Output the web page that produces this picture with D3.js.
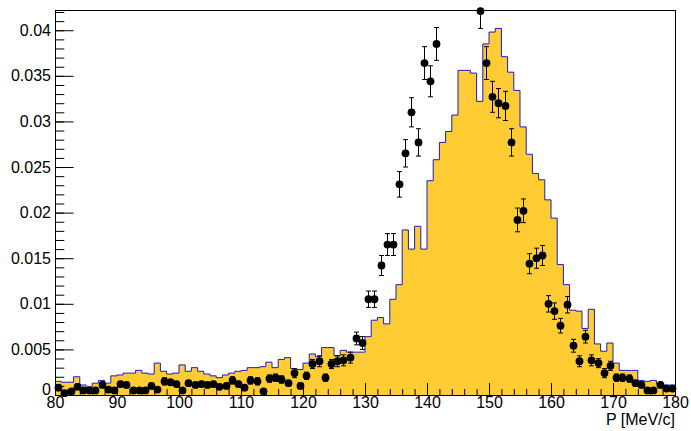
<!DOCTYPE html>
<html>
<head>
<meta charset="utf-8">
<script src="https://cdn.jsdelivr.net/npm/d3@7"></script>
<style>
  html, body { margin: 0; padding: 0; background: #fff; }
  svg { display: block; font-family: "Liberation Sans", Arial, Helvetica, sans-serif; }
</style>
</head>
<body>
<svg id="chart" width="691" height="431"></svg>
<script>
// Momentum spectrum: 1 MeV/c bins from 80 to 180 MeV/c
const binLow = d3.range(80, 180);

// Simulated spectrum (filled histogram), one value per bin
const simValues = [
  0.0015, 0.0014, 0.0014, 0.0020, 0.0011, 0.0009, 0.0013, 0.0016, 0.0013, 0.0021,
  0.0022, 0.0024, 0.0024, 0.0027, 0.0024, 0.0023, 0.0035, 0.0026, 0.0023, 0.0024,
  0.0033, 0.0026, 0.0030, 0.0026, 0.0023, 0.0021, 0.0019, 0.0022, 0.0024, 0.0026,
  0.0027, 0.0030, 0.0030, 0.0031, 0.0036, 0.0030, 0.0039, 0.0041, 0.0029, 0.0028,
  0.0035, 0.0045, 0.0042, 0.0052, 0.0052, 0.0043, 0.0049, 0.0047, 0.0047, 0.0047,
  0.0064, 0.0082, 0.0085, 0.0078, 0.0105, 0.0121, 0.0181, 0.0160, 0.0185, 0.0160,
  0.0235, 0.0258, 0.0277, 0.0289, 0.0307, 0.0356, 0.0356, 0.0353, 0.0322, 0.0385,
  0.0398, 0.0402, 0.0371, 0.0354, 0.0334, 0.0294, 0.0264, 0.0243, 0.0236, 0.0214,
  0.0194, 0.0143, 0.0121, 0.0093, 0.0092, 0.0073, 0.0094, 0.0056, 0.0048, 0.0057,
  0.0035, 0.0027, 0.0027, 0.0027, 0.0016, 0.0015, 0.0016, 0.0012, 0.0011, 0.0011
];

// Measured points (null where the point lies above the plotted range)
const dataValues = [
  0.0008, 0.0002, 0.0004, 0.0009, 0.0005, 0.0005, 0.0005, 0.0011, 0.0006, 0.0005,
  0.0012, 0.0011, 0.0005, 0.0005, 0.0005, 0.0010, 0.0006, 0.0015, 0.0014, 0.0012,
  0.0005, 0.0013, 0.0011, 0.0012, 0.0011, 0.0012, 0.0009, 0.0010, 0.0016, 0.0012,
  0.0008, 0.0016, 0.0015, 0.0004, 0.0018, 0.0019, 0.0017, 0.0013, 0.0024, 0.0010,
  0.0021, 0.0034, 0.0037, 0.0019, 0.0034, 0.0037, 0.0038, 0.0041, 0.0062, 0.0057,
  0.0105, 0.0105, 0.0142, 0.0165, 0.0165, 0.0231, 0.0265, 0.0310, 0.0277, 0.0364,
  0.0344, 0.0385, null, null, null, null, null, null, 0.0421, 0.0364,
  0.0327, 0.0320, 0.0317, 0.0277, 0.0192, 0.0202, 0.0144, 0.0150, 0.0153, 0.0100,
  0.0092, 0.0076, 0.0099, 0.0054, 0.0037, 0.0064, 0.0038, 0.0035, 0.0024, 0.0032,
  0.0019, 0.0019, 0.0018, 0.0013, 0.0011, 0.0005, 0.0005, 0.0011, 0.0007, 0.0007
];

// Statistical uncertainty of each measured point
const dataErrors = [
  0.0003, 0.0001, 0.0002, 0.0003, 0.0002, 0.0002, 0.0002, 0.0003, 0.0002, 0.0002,
  0.0003, 0.0003, 0.0002, 0.0002, 0.0002, 0.0003, 0.0002, 0.0004, 0.0003, 0.0003,
  0.0002, 0.0003, 0.0003, 0.0003, 0.0003, 0.0003, 0.0003, 0.0003, 0.0004, 0.0003,
  0.0003, 0.0004, 0.0004, 0.0002, 0.0004, 0.0004, 0.0004, 0.0003, 0.0005, 0.0003,
  0.0004, 0.0005, 0.0006, 0.0004, 0.0005, 0.0006, 0.0006, 0.0006, 0.0007, 0.0007,
  0.0009, 0.0009, 0.0011, 0.0012, 0.0012, 0.0014, 0.0015, 0.0016, 0.0015, 0.0018,
  0.0017, 0.0018, null, null, null, null, null, null, 0.0019, 0.0018,
  0.0017, 0.0016, 0.0016, 0.0015, 0.0013, 0.0013, 0.0011, 0.0011, 0.0011, 0.0009,
  0.0009, 0.0008, 0.0009, 0.0007, 0.0006, 0.0007, 0.0006, 0.0005, 0.0005, 0.0005,
  0.0004, 0.0004, 0.0004, 0.0003, 0.0003, 0.0002, 0.0002, 0.0003, 0.0002, 0.0002
];

// Axis tick values
const xTicks = d3.range(80, 181, 10);
const xMinorTicks = d3.range(80, 181, 2);
const yTicks = [0, 0.005, 0.01, 0.015, 0.02, 0.025, 0.03, 0.035, 0.04];
const yMinorTicks = d3.range(0, 43).map(i => i / 1000);
const xTitle = "P [MeV/c]";

const frame = { left: 55, right: 675, top: 10, bottom: 395 };
const svg = d3.select("#chart");

const x = d3.scaleLinear().domain([80, 180]).range([frame.left, frame.right]);
const y = d3.scaleLinear().domain([0, 0.04222]).range([frame.bottom, frame.top]);

svg.append("defs").append("clipPath").attr("id", "plotClip")
  .append("rect")
  .attr("x", frame.left).attr("y", frame.top)
  .attr("width", frame.right - frame.left)
  .attr("height", frame.bottom - frame.top);

// Step histogram: each bin's value held from its low edge to the next
const steps = binLow.map((b, i) => [b, simValues[i]]);
steps.push([180, simValues[simValues.length - 1]]);

const plot = svg.append("g").attr("clip-path", "url(#plotClip)");

plot.append("path")
  .datum(steps)
  .attr("fill", "#ffcc33")
  .attr("d", d3.area()
    .curve(d3.curveStepAfter)
    .x(d => x(d[0]))
    .y0(y(0))
    .y1(d => y(d[1])));

plot.append("path")
  .datum(steps)
  .attr("fill", "none")
  .attr("stroke", "#1c1cc0")
  .attr("stroke-width", 1)
  .attr("d", d3.line()
    .curve(d3.curveStepAfter)
    .x(d => x(d[0]))
    .y(d => y(d[1])));

// Frame
svg.append("rect")
  .attr("x", frame.left + 0.5).attr("y", frame.top + 0.5)
  .attr("width", frame.right - frame.left)
  .attr("height", frame.bottom - frame.top)
  .attr("fill", "none")
  .attr("stroke", "#000")
  .attr("stroke-width", 1);

// Axes: ticks point into the frame
const fmtY = d => d === 0 ? "0" : String(+d.toFixed(3));

const yMinor = svg.append("g")
  .attr("transform", `translate(${frame.left},0)`)
  .call(d3.axisLeft(y).tickValues(yMinorTicks).tickSize(-9.3).tickFormat(""));
yMinor.select(".domain").remove();

const yAxis = svg.append("g")
  .attr("transform", `translate(${frame.left},0)`)
  .call(d3.axisLeft(y).tickValues(yTicks).tickSize(-18.6).tickPadding(4).tickFormat(fmtY));

const xMinor = svg.append("g")
  .attr("transform", `translate(0,${frame.bottom})`)
  .call(d3.axisBottom(x).tickValues(xMinorTicks).tickSize(-6).tickFormat(""));
xMinor.select(".domain").remove();

const xAxis = svg.append("g")
  .attr("transform", `translate(0,${frame.bottom})`)
  .call(d3.axisBottom(x).tickValues(xTicks).tickSize(-12).tickPadding(2).tickFormat(d => String(d)));

svg.selectAll(".tick line").attr("stroke", "#000");
svg.selectAll(".domain").attr("stroke", "#000");
[xAxis, yAxis].forEach(g => g.selectAll("text")
  .attr("font-family", "'Liberation Sans', Arial, Helvetica, sans-serif")
  .attr("font-size", 16)
  .attr("fill", "#000"));

// the zero label sits a little above its tick, clear of the "80" below it
yAxis.selectAll(".tick").filter(d => d === 0).select("text").attr("y", -6);

svg.append("text")
  .attr("x", frame.right)
  .attr("y", 425)
  .attr("text-anchor", "end")
  .attr("font-size", 16)
  .attr("fill", "#000")
  .text(xTitle);

// Measured points with error bars
const points = binLow
  .map((b, i) => ({ c: b + 0.5, v: dataValues[i], e: dataErrors[i] }))
  .filter(d => d.v !== null);

const bars = plot.append("g").attr("stroke", "#000").attr("stroke-width", 1);
points.forEach(d => {
  const cx = Math.round(x(d.c)) + 0.5;
  const yHi = y(d.v + d.e), yLo = y(d.v - d.e);
  bars.append("line").attr("x1", cx).attr("x2", cx).attr("y1", yHi).attr("y2", yLo);
  bars.append("line").attr("x1", cx - 2.5).attr("x2", cx + 2.5).attr("y1", yHi).attr("y2", yHi);
  bars.append("line").attr("x1", cx - 2.5).attr("x2", cx + 2.5).attr("y1", yLo).attr("y2", yLo);
});

svg.append("g").selectAll("circle")
  .data(points)
  .join("circle")
  .attr("cx", d => Math.round(x(d.c)) + 0.5)
  .attr("cy", d => y(d.v))
  .attr("r", 3.9)
  .attr("fill", "#000");
</script>
</body>
</html>
